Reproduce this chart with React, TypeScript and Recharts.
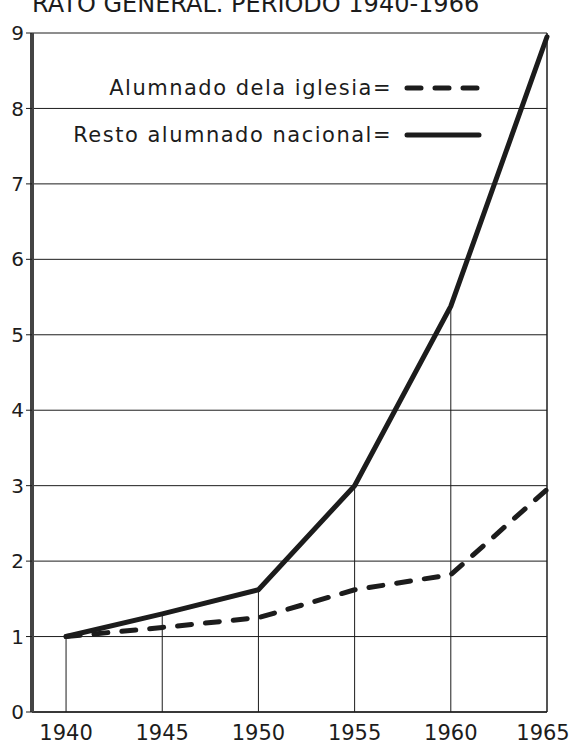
import { LineChart, Line, XAxis, YAxis, CartesianGrid, ReferenceLine } from "recharts";

// años de la serie
const YEARS = [1940, 1945, 1950, 1955, 1960, 1965];
// índices (1940 = 1)
const RESTO_NACIONAL = [1.0, 1.3, 1.62, 3.0, 5.38, 8.95];
const ALUMNADO_IGLESIA = [1.0, 1.12, 1.25, 1.62, 1.82, 2.95];
const Y_TICKS = [0, 1, 2, 3, 4, 5, 6, 7, 8, 9];

const TITLE = "RATO GENERAL. PERIODO 1940-1966";

const SERIES = [
  { key: "iglesia", label: "Alumnado dela iglesia=", dash: "14 14" },
  { key: "resto", label: "Resto alumnado nacional=", dash: undefined },
];

const INK = "#1c1c1c";
const FONT = "'DejaVu Sans', sans-serif";

const data = YEARS.map((year, i) => ({
  year,
  resto: RESTO_NACIONAL[i],
  iglesia: ALUMNADO_IGLESIA[i],
}));

function LegendBox() {
  return (
    <div style={{ position: "absolute", left: 30, top: 64, width: 460, fontFamily: FONT }}>
      {SERIES.map((s) => (
        <div key={s.key} style={{ display: "flex", alignItems: "center", height: 47 }}>
          <span
            style={{
              width: 362,
              textAlign: "right",
              fontSize: 21,
              letterSpacing: 1.5,
              color: INK,
              whiteSpace: "nowrap",
            }}
          >
            {s.label}
          </span>
          <svg width={78} height={10} style={{ marginLeft: 12 }}>
            <line
              x1={3}
              y1={5}
              x2={75}
              y2={5}
              stroke={INK}
              strokeWidth={5}
              strokeLinecap="round"
              strokeDasharray={s.dash}
            />
          </svg>
        </div>
      ))}
    </div>
  );
}

// la última etiqueta se corre un poco para que no se corte en el borde
function YearTick(props: any) {
  const { x, y, payload } = props;
  const last = payload.value === YEARS[YEARS.length - 1];
  return (
    <text
      x={x + (last ? -4 : 0)}
      y={y}
      dy="0.71em"
      textAnchor="middle"
      fontSize={21}
      fill={INK}
      fontFamily={FONT}
    >
      {payload.value}
    </text>
  );
}

export default function App() {
  return (
    <div
      style={{
        position: "absolute",
        top: 0,
        left: 0,
        width: 571,
        height: 750,
        overflow: "hidden",
        background: "#fff",
        fontFamily: FONT,
      }}
    >
      <div
        style={{
          position: "absolute",
          top: -10,
          left: 32,
          fontSize: 24,
          color: INK,
          whiteSpace: "nowrap",
        }}
      >
        {TITLE}
      </div>
      <LineChart
        width={571}
        height={750}
        data={data}
        margin={{ top: 33, right: 24, left: 0, bottom: 0 }}
      >
        <CartesianGrid vertical={false} stroke={INK} strokeWidth={1} />
        <XAxis
          dataKey="year"
          type="number"
          domain={[1938.23, 1965]}
          ticks={YEARS}
          tickLine={false}
          tickSize={0}
          tickMargin={13}
          height={38}
          axisLine={{ stroke: INK, strokeWidth: 1.5 }}
          tick={<YearTick />}
        />
        <YAxis
          type="number"
          domain={[0, 9]}
          ticks={Y_TICKS}
          width={32}
          tickSize={6}
          tickMargin={2}
          tickLine={{ stroke: INK }}
          axisLine={{ stroke: "#444", strokeWidth: 4 }}
          tick={{ fontSize: 20, fill: INK, fontFamily: FONT }}
        />
        {YEARS.slice(0, -1).map((y, i) => (
          <ReferenceLine
            key={y}
            segment={[
              { x: y, y: 0 },
              { x: y, y: RESTO_NACIONAL[i] },
            ]}
            stroke={INK}
            strokeWidth={1}
          />
        ))}
        <ReferenceLine x={1965} stroke={INK} strokeWidth={1.5} />
        <Line
          dataKey="iglesia"
          type="linear"
          stroke={INK}
          strokeWidth={5}
          strokeDasharray="14 14"
          strokeLinecap="round"
          dot={false}
          isAnimationActive={false}
        />
        <Line
          dataKey="resto"
          type="linear"
          stroke={INK}
          strokeWidth={5}
          strokeLinecap="round"
          dot={false}
          isAnimationActive={false}
        />
      </LineChart>
      <LegendBox />
    </div>
  );
}
